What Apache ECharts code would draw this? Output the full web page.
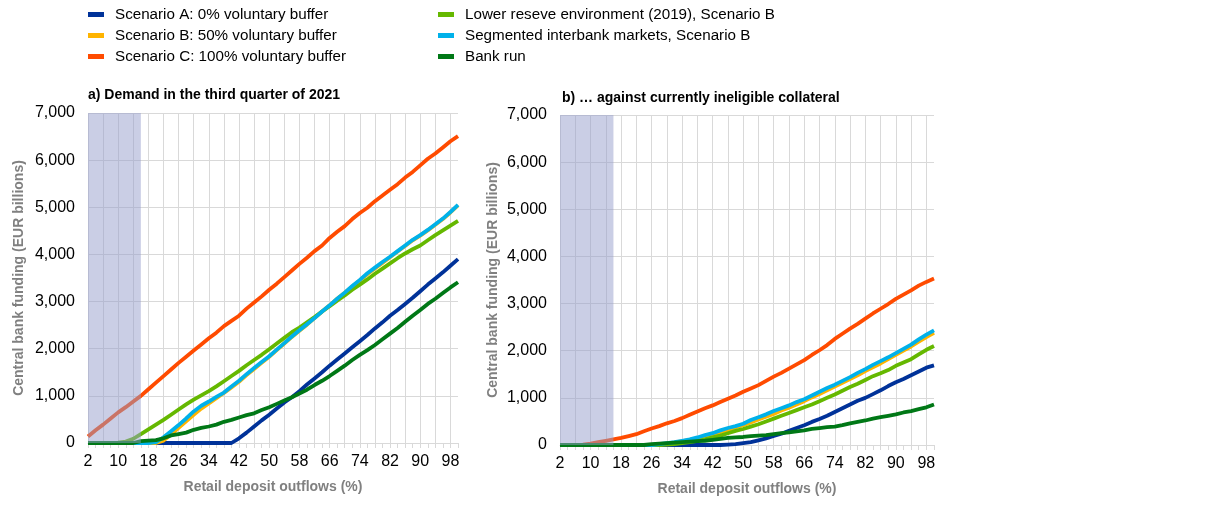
<!DOCTYPE html>
<html>
<head>
<meta charset="utf-8">
<script src="https://cdn.jsdelivr.net/npm/echarts@6/dist/echarts.min.js"></script>
<style>
html,body{margin:0;padding:0;background:#fff;}
#chart{width:1213px;height:505px;}
</style>
</head>
<body>
<div id="chart"></div>
<script>
// Retail deposit outflows (%) categories
const outflows = [2,4,6,8,10,12,14,16,18,20,22,24,26,28,30,32,34,36,38,40,42,44,46,48,50,52,54,56,58,60,62,64,66,68,70,72,74,76,78,80,82,84,86,88,90,92,94,96,98,100];
const xTickLabels = ['2','10','18','26','34','42','50','58','66','74','82','90','98'];
const shadedUntil = 16;

const seriesNames = [
  'Scenario A: 0% voluntary buffer',
  'Scenario B: 50% voluntary buffer',
  'Scenario C: 100% voluntary buffer',
  'Lower reseve environment (2019), Scenario B',
  'Segmented interbank markets, Scenario B',
  'Bank run'
];

// Panel a) Demand in the third quarter of 2021 (EUR billions)
const aScenarioA = [0,0,0,0,0,0,0,0,0,0,0,0,0,0,0,0,0,0,0,0,100,220,350,480,600,730,860,970,1100,1240,1370,1500,1640,1770,1900,2030,2160,2290,2430,2560,2700,2820,2950,3080,3220,3360,3490,3620,3760,3900];
const aScenarioB = [0,0,0,0,0,0,0,0,0,0,50,180,320,460,600,730,840,950,1060,1180,1300,1440,1570,1700,1830,1970,2110,2250,2380,2510,2650,2790,2920,3060,3190,3320,3450,3580,3700,3820,3940,4060,4180,4300,4400,4510,4630,4750,4890,5040];
const aScenarioC = [140,270,390,520,650,760,880,1000,1140,1280,1420,1560,1700,1830,1960,2090,2220,2340,2480,2590,2700,2850,2980,3110,3250,3380,3520,3660,3800,3930,4070,4190,4350,4480,4600,4750,4880,4990,5130,5250,5370,5490,5630,5750,5890,6030,6140,6270,6400,6510];
const aLowerReserve = [0,0,0,0,10,30,90,190,290,390,490,600,710,820,920,1010,1100,1200,1310,1420,1530,1650,1760,1870,1990,2110,2230,2350,2450,2560,2670,2790,2900,3020,3130,3250,3360,3470,3590,3700,3810,3920,4020,4110,4190,4300,4410,4510,4610,4710];
const aSegmented = [0,0,0,0,0,0,0,0,0,20,120,250,380,520,670,790,880,980,1070,1200,1320,1460,1590,1720,1840,1980,2120,2260,2390,2520,2650,2790,2920,3060,3190,3330,3460,3600,3720,3840,3950,4070,4190,4310,4410,4520,4640,4760,4900,5050];
const aBankRun = [0,0,0,0,0,0,0,40,50,60,100,160,190,220,280,320,350,390,450,490,540,590,630,700,760,830,900,970,1050,1130,1230,1320,1420,1530,1640,1760,1870,1970,2080,2200,2320,2440,2570,2700,2820,2950,3060,3180,3300,3410];

// Panel b) ... against currently ineligible collateral (EUR billions)
const bScenarioA = [0,0,0,0,0,0,0,0,0,0,0,0,0,0,0,0,0,0,0,0,0,0,10,20,40,60,100,140,190,240,300,360,420,490,550,620,700,780,860,940,1000,1080,1160,1250,1330,1400,1480,1560,1640,1690];
const bScenarioB = [0,0,0,0,0,0,0,0,0,0,0,0,0,10,30,50,80,110,140,180,220,270,320,370,420,480,540,600,660,730,790,860,930,1010,1080,1160,1240,1320,1400,1480,1570,1650,1730,1820,1910,2000,2090,2190,2290,2380];
const bScenarioC = [0,0,0,10,30,60,90,120,150,190,230,290,350,400,460,510,570,640,710,780,840,910,980,1050,1130,1200,1270,1360,1450,1530,1620,1710,1800,1910,2010,2120,2250,2360,2470,2570,2680,2790,2890,2990,3100,3190,3280,3380,3460,3530];
const bLowerReserve = [0,0,0,0,0,0,0,0,0,0,0,0,0,0,10,20,40,60,90,120,160,200,250,300,340,390,440,500,560,620,680,740,800,860,930,1000,1070,1150,1230,1300,1380,1460,1520,1590,1680,1750,1820,1920,2020,2100];
const bSegmented = [0,0,0,0,0,0,0,0,0,0,0,0,0,20,40,60,90,120,160,210,250,310,360,400,450,530,590,650,720,780,840,910,970,1050,1130,1210,1280,1360,1440,1530,1610,1700,1780,1860,1950,2040,2130,2240,2340,2430];
const bBankRun = [0,0,0,0,0,0,0,0,0,0,0,0,20,30,40,50,60,70,80,90,110,130,150,160,170,190,200,210,230,250,270,290,310,340,360,380,390,420,460,490,520,560,590,620,650,690,720,760,800,860];

const colors = ['#003299','#ffb400','#ff4b00','#65b800','#00b1ea','#007816'];
const panelA = [aScenarioA,aScenarioB,aScenarioC,aLowerReserve,aSegmented,aBankRun];
const panelB = [bScenarioA,bScenarioB,bScenarioC,bLowerReserve,bSegmented,bBankRun];

const FONT = '"Liberation Sans", Arial, sans-serif';
const cats = outflows.map(String);

function xAxisFor(gi){
  return {
    type:'category', gridIndex:gi, data:cats, boundaryGap:false,
    axisLine:{show:true, lineStyle:{color:'#d9d9d9', width:1}},
    axisTick:{show:true, interval:0, length:5, lineStyle:{color:'#d9d9d9'}},
    axisLabel:{interval:3, margin:11, color:'#000', fontSize:16, fontFamily:FONT},
    splitLine:{show:true, interval:1, lineStyle:{color:'#d9d9d9', width:1}},
    name:'Retail deposit outflows (%)', nameLocation:'middle', nameGap:37,
    nameTextStyle:{color:'#808080', fontSize:14, fontWeight:'bold', fontFamily:FONT}
  };
}
function yAxisFor(gi, gap){
  return {
    type:'value', gridIndex:gi, min:0, max:7000, interval:1000,
    axisLine:{show:false}, axisTick:{show:false},
    axisLabel:{margin:13, color:'#000', fontSize:16, fontFamily:FONT,
      formatter:v=>v.toLocaleString('en-US')},
    splitLine:{show:true, lineStyle:{color:'#d9d9d9', width:1}},
    name:'Central bank funding (EUR billions)', nameLocation:'middle', nameGap:gap,
    nameTextStyle:{color:'#808080', fontSize:14, fontWeight:'bold', fontFamily:FONT}
  };
}

const series = [];
[panelA, panelB].forEach((panel, gi)=>{
  panel.forEach((vals, i)=>{
    series.push({
      name:seriesNames[i], type:'line', xAxisIndex:gi, yAxisIndex:gi,
      data:vals, symbol:'none', smooth:false, z:2+i*0.01,
      lineStyle:{color:colors[i], width:3.8}, itemStyle:{color:colors[i]}
    });
  });
  series.push({
    name:'shade'+gi, type:'line', xAxisIndex:gi, yAxisIndex:gi,
    data:outflows.map(x=> x<=shadedUntil ? 7000 : '-'),
    symbol:'none', silent:true, z:10,
    lineStyle:{width:0, opacity:0},
    areaStyle:{color:'rgba(150,158,204,0.5)', opacity:1}
  });
});

const legendCommon = {
  orient:'vertical', icon:'rect', itemWidth:16, itemHeight:5, itemGap:6, padding:0,
  textStyle:{color:'#000', fontSize:15.2, fontFamily:FONT, padding:[0,0,0,6], lineHeight:15},
  selectedMode:false
};

const option = {
  backgroundColor:'#fff',
  animation:false,
  title:[
    {text:'a) Demand in the third quarter of 2021', left:83, top:83,
     textStyle:{fontSize:14, fontWeight:'bold', color:'#000', fontFamily:FONT}},
    {text:'b) … against currently ineligible collateral', left:557, top:86,
     textStyle:{fontSize:14, fontWeight:'bold', color:'#000', fontFamily:FONT}}
  ],
  legend:[
    Object.assign({left:88, top:7, data:seriesNames.slice(0,3)}, legendCommon),
    Object.assign({left:438, top:7, data:seriesNames.slice(3,6)}, legendCommon)
  ],
  grid:[
    {left:88, top:113, width:370, height:330},
    {left:560, top:115, width:374, height:330}
  ],
  xAxis:[xAxisFor(0), xAxisFor(1)],
  yAxis:[yAxisFor(0, 62), yAxisFor(1, 60)],
  series:series
};

const chart = echarts.init(document.getElementById('chart'), null, {renderer:'canvas'});
chart.setOption(option);
</script>
</body>
</html>
